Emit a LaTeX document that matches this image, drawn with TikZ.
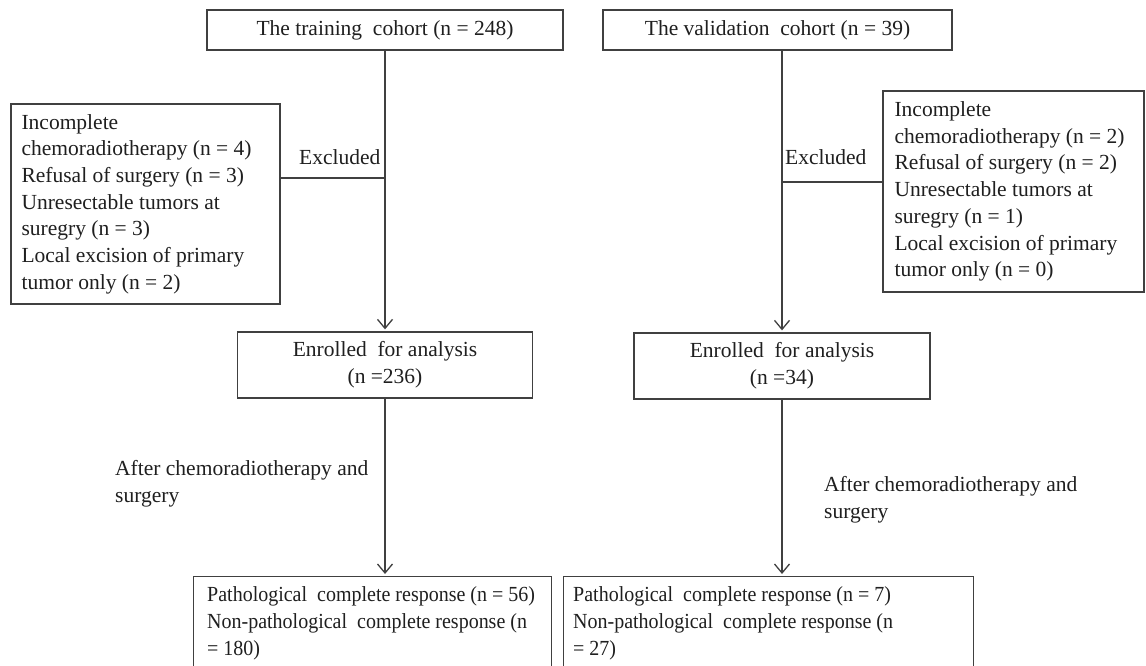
\documentclass[tikz,border=0pt]{standalone}
\usepackage{fontspec}
\setmainfont{Liberation Serif}
\newfontfamily\narrowfont[FakeStretch=0.93]{Liberation Serif}
\usetikzlibrary{arrows.meta,calc}
\begin{document}
\begin{tikzpicture}[x=1pt,y=-1pt,
  every node/.style={font=\fontsize{21.5}{26.7}\selectfont, text=black!88, inner sep=0pt},
  boxnode/.style={draw=black!75, line width=1.3pt},
  conn/.style={draw=black!75, line width=1.3pt},
  arr/.style={conn, shorten >=2pt, -{Straight Barb[length=9pt,width=15pt,line width=1.3pt]}},
  lbl/.style={align=left},
  narrowtext/.style={align=left, font=\narrowfont\fontsize{21.5}{27.4}\selectfont}
]
\useasboundingbox (0,0) rectangle (1146,666);
\fill[white] (0,0) rectangle (1146,666);
\clip (0,0) rectangle (1146,666);

% top boxes
\node[boxnode, minimum width=356pt, minimum height=40pt] (t1) at (385,30) {The training~ cohort (n = 248)};
\node[boxnode, minimum width=349pt, minimum height=40pt] (t2) at (777.5,30) {The validation~ cohort (n = 39)};

% exclusion boxes
\node[boxnode, minimum width=269pt, minimum height=200pt] (x1) at (145.5,204) {};
\node[lbl, anchor=west] (x1t) at ([xshift=11pt]x1.west) {Incomplete\\chemoradiotherapy (n = 4)\\Refusal of surgery (n = 3)\\Unresectable tumors at\\suregry (n = 3)\\Local excision of primary\\tumor only (n = 2)};

\node[boxnode, minimum width=261pt, minimum height=201pt] (x2) at (1013.5,191.5) {};
\node[lbl, anchor=west] (x2t) at ([xshift=12pt]x2.west) {Incomplete\\chemoradiotherapy (n = 2)\\Refusal of surgery (n = 2)\\Unresectable tumors at\\suregry (n = 1)\\Local excision of primary\\tumor only (n = 0)};

% enrolled boxes
\node[boxnode, minimum width=295pt, minimum height=66pt, align=center] (e1) at (385,365) {Enrolled~ for analysis\\(n =236)};
\node[boxnode, minimum width=296pt, minimum height=66pt, align=center] (e2) at (782,366) {Enrolled~ for analysis\\(n =34)};

% bottom boxes
\node[boxnode, minimum width=358pt, minimum height=120pt, anchor=north west] (b1) at (193,576) {};
\node[narrowtext, anchor=north west] (b1t) at ([shift={(14,10)}]b1.north west) {Pathological~ complete response (n = 56)\\Non-pathological~ complete response (n\\= 180)};
\node[boxnode, minimum width=410pt, minimum height=120pt, anchor=north west] (b2) at (563,576) {};
\node[narrowtext, anchor=north west] (b2t) at ([shift={(10,10)}]b2.north west) {Pathological~ complete response (n = 7)\\Non-pathological~ complete response (n\\= 27)};

% labels
\node[anchor=west] (ex1) at (299,157) {Excluded};
\node[anchor=west] (ex2) at (785,157) {Excluded};
\node[lbl, anchor=north west] (a1) at (115,460) {After chemoradiotherapy and\\surgery};
\node[lbl, anchor=north west] (a2) at (824,476) {After chemoradiotherapy and\\surgery};

% connectors
\draw[arr] (t1.south) -- (t1.south |- e1.north);
\draw[arr] (t2.south -| e2.north) -- (e2.north);
\coordinate (j1) at (385,178);
\coordinate (j2) at (782,182);
\draw[conn] (x1.east |- j1) -- (j1);
\draw[conn] (j2) -- (j2 -| x2.west);
\draw[arr] (e1.south) -- (e1.south |- b1.north);
\draw[arr] (e2.south) -- (e2.south |- b2.north);
\end{tikzpicture}
\end{document}
